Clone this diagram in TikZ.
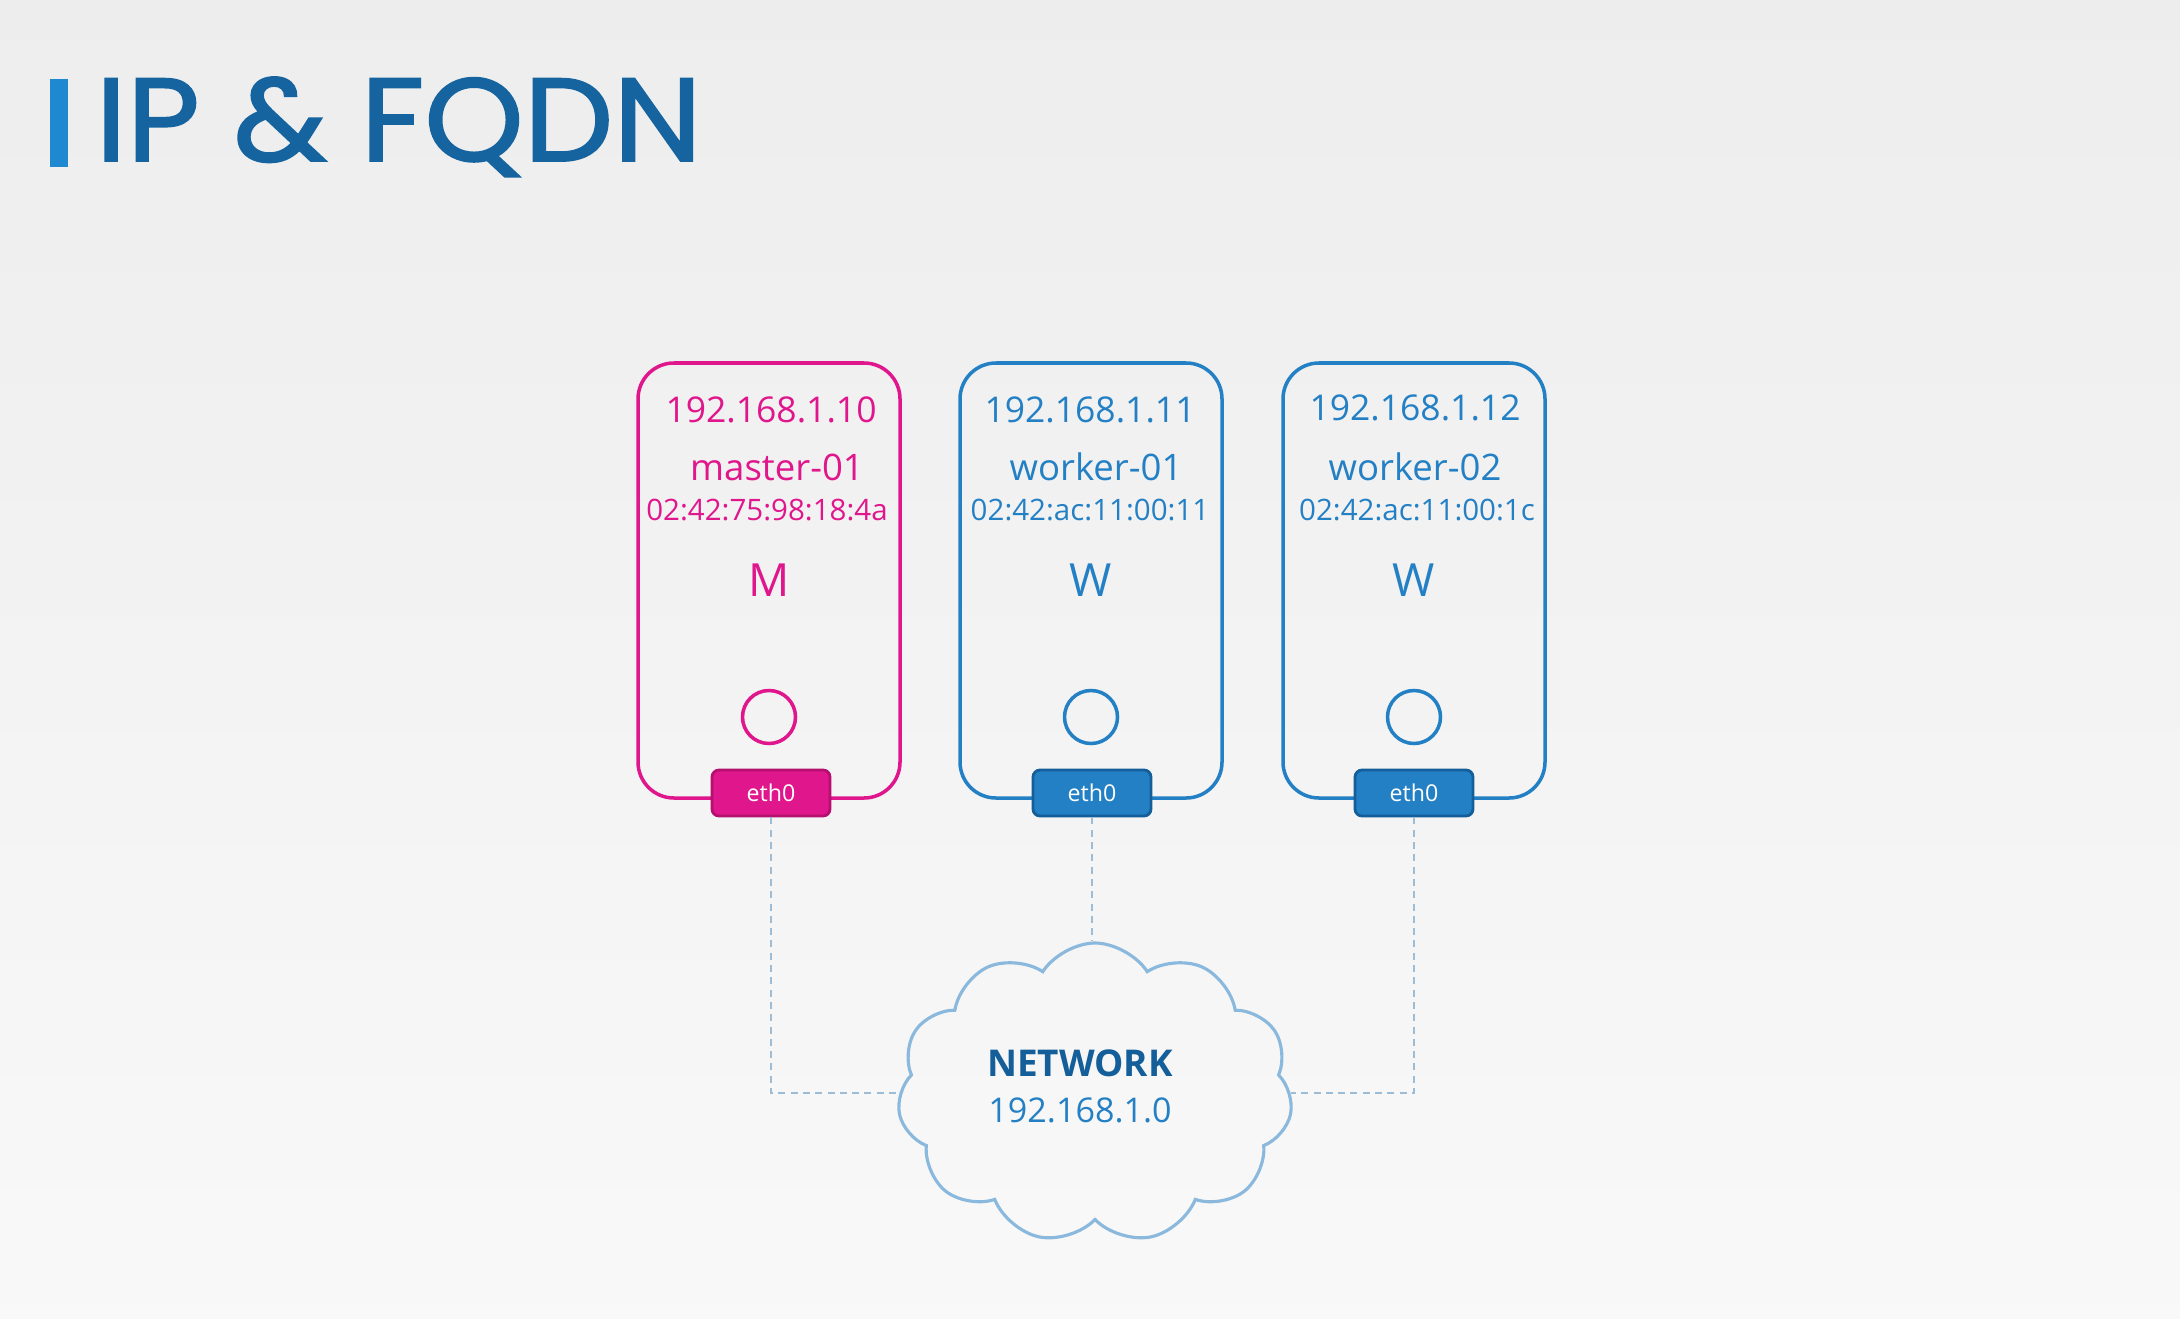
\documentclass[tikz,border=0pt]{standalone}
\usepackage{fontspec}
\setmainfont{Open Sans}
\newfontfamily\titlefont[FakeStretch=1.07,FakeBold=1.6]{Poppins}
\newfontfamily\macfont{Open Sans}
\usetikzlibrary{positioning,shapes.symbols}

\definecolor{kpink}{HTML}{E0168C}
\definecolor{kpinkdark}{HTML}{B50F6F}
\definecolor{kblue}{HTML}{2480C4}
\definecolor{kbluedark}{HTML}{145E9A}
\definecolor{ktitle}{HTML}{15649F}
\definecolor{kbar}{HTML}{1E88D0}
\definecolor{kcloud}{HTML}{8BB9DD}
\definecolor{klink}{HTML}{9DBCD6}

\tikzset{
  hostbox/.style={draw, line width=1pt, rounded corners=0.36cm, minimum width=2.62cm, minimum height=4.35cm},
  iptext/.style={font=\fontsize{10.1}{11}\selectfont},
  nametext/.style={font=\fontsize{10.4}{11}\selectfont},
  mactext/.style={font=\macfont\fontsize{8.4}{9}\selectfont},
  lettext/.style={font=\fontsize{13}{14}\selectfont},
  port/.style={draw, circle, line width=1pt, minimum size=0.53cm, inner sep=0pt},
  ethbox/.style={draw, line width=0.8pt, rounded corners=2pt, minimum width=1.18cm, minimum height=0.46cm,
    inner sep=0pt, text=white, font=\fontsize{6.6}{7}\selectfont},
  link/.style={klink, line width=0.6pt, dash pattern=on 2pt off 1.5pt},
}

\begin{document}
\begin{tikzpicture}

%%% 背景
\useasboundingbox (0,0) rectangle (21.8,13.18);
\fill[top color=gray!14, bottom color=gray!5] (0,0) rectangle (21.8,13.18);

%% タイトル
\fill[kbar] (0.50,11.51) rectangle (0.68,12.39);
\node[anchor=base west, inner sep=0pt, text=ktitle, font=\titlefont\fontsize{33.6}{34}\selectfont] (title) at (0.95,11.57) {IP \& FQDN};

%% master
\node[hostbox, kpink] (m) at (7.69,7.375) {};
\node[iptext, text=kpink] (mip) at (7.71,9.08) {192.168.1.10};
\node[nametext, text=kpink] (mname) at (7.77,8.51) {master-01};
\node[mactext, text=kpink] (mmac) at (7.67,8.08) {02:42:75:98:18:4a};
\node[lettext, text=kpink] (mlet) at (7.69,7.38) {M};
\node[port, kpink] (mport) at (7.69,6.01) {};
\node[ethbox, draw=kpinkdark, fill=kpink] (meth) at (7.71,5.25) {eth0};

%% worker-01
\node[hostbox, kblue] (w1) at (10.91,7.375) {};
\node[iptext, text=kblue] (w1ip) at (10.90,9.08) {192.168.1.11};
\node[nametext, text=kblue] (w1name) at (10.96,8.51) {worker-01};
\node[mactext, text=kblue] (w1mac) at (10.90,8.08) {02:42:ac:11:00:11};
\node[lettext, text=kblue] (w1let) at (10.91,7.38) {W};
\node[port, kblue] (w1port) at (10.91,6.01) {};
\node[ethbox, draw=kbluedark, fill=kblue] (w1eth) at (10.92,5.25) {eth0};

%% worker-02
\node[hostbox, kblue] (w2) at (14.14,7.375) {};
\node[iptext, text=kblue] (w2ip) at (14.15,9.10) {192.168.1.12};
\node[nametext, text=kblue] (w2name) at (14.15,8.51) {worker-02};
\node[mactext, text=kblue] (w2mac) at (14.17,8.08) {02:42:ac:11:00:1c};
\node[lettext, text=kblue] (w2let) at (14.14,7.38) {W};
\node[port, kblue] (w2port) at (14.14,6.01) {};
\node[ethbox, draw=kbluedark, fill=kblue] (w2eth) at (14.14,5.25) {eth0};

%% ネットワーク
\node[draw=kcloud, line width=0.9pt, cloud, cloud puffs=11, cloud puff arc=115, aspect=1.3,
  minimum width=3.95cm, minimum height=3.0cm] (net) at (10.95,2.25) {};
\node[text=kbluedark, font=\bfseries\fontsize{10.5}{11}\selectfont] (netname) at (10.80,2.55) {NETWORK};
\node[text=kblue, font=\fontsize{9.7}{10}\selectfont] (netip) at (10.80,2.08) {192.168.1.0};

%% 線
\draw[link] (meth.south) |- (net.west);
\draw[link] (w1eth.south) -- (w1eth.south |- net.north);
\draw[link] (w2eth.south) |- (net.east);

\end{tikzpicture}
\end{document}
